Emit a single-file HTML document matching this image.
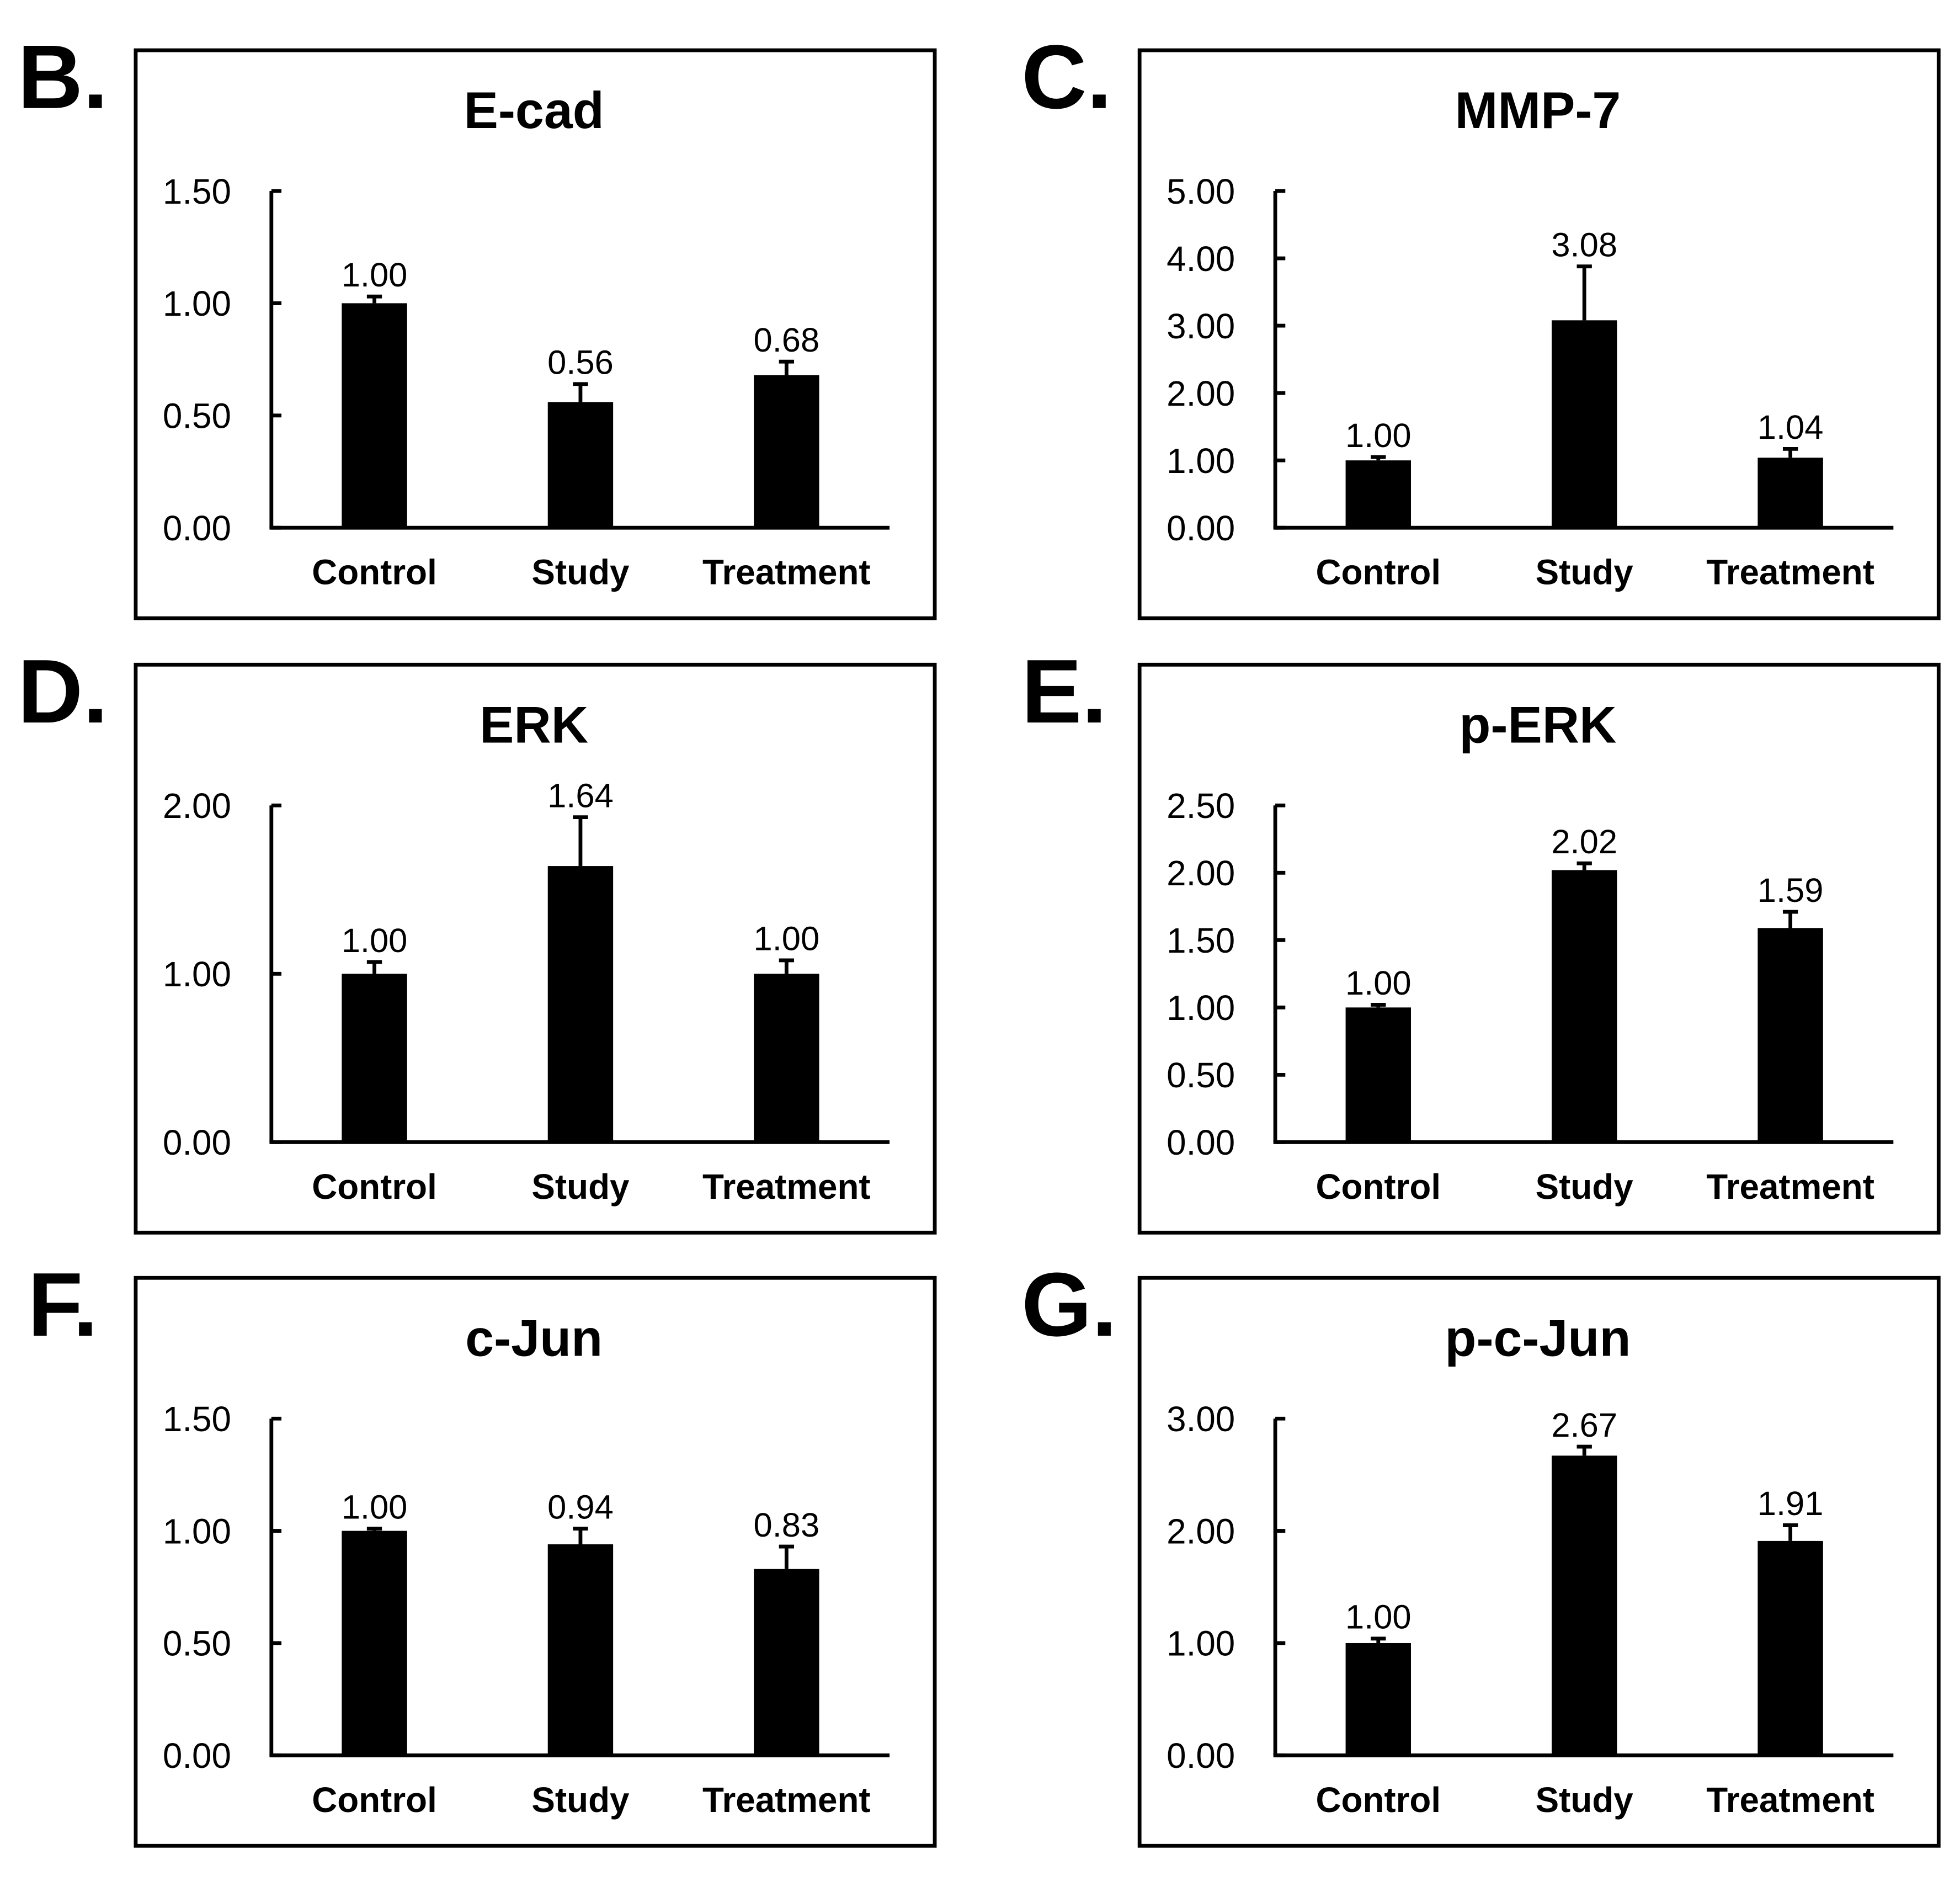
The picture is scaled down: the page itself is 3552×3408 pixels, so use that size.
<!DOCTYPE html>
<html><head><meta charset="utf-8"><style>
html,body{margin:0;padding:0;background:#fff}
svg{display:block}
text{font-family:"Liberation Sans",Arial,sans-serif;fill:#000}
</style></head><body>
<svg id="fig" width="3552" height="3408" viewBox="0 0 1560 1497" preserveAspectRatio="none" xmlns="http://www.w3.org/2000/svg"></svg>
<script>
const categories = ["Control","Study","Treatment"];
const titles = ["E-cad","MMP-7","ERK","p-ERK","c-Jun","p-c-Jun"];
const letters = ["B.","C.","D.","E.","F.","G."];
const valsB = [1.00,0.56,0.68]; const errB = [0.03,0.08,0.06];
const valsC = [1.00,3.08,1.04]; const errC = [0.05,0.80,0.13];
const valsD = [1.00,1.64,1.00]; const errD = [0.07,0.29,0.08];
const valsE = [1.00,2.02,1.59]; const errE = [0.02,0.05,0.12];
const valsF = [1.00,0.94,0.83]; const errF = [0.01,0.07,0.10];
const valsG = [1.00,2.67,1.91]; const errG = [0.04,0.08,0.14];
const labelsB = ["1.00","0.56","0.68"];
const labelsC = ["1.00","3.08","1.04"];
const labelsD = ["1.00","1.64","1.00"];
const labelsE = ["1.00","2.02","1.59"];
const labelsF = ["1.00","0.94","0.83"];
const labelsG = ["1.00","2.67","1.91"];
const ticksB = [0,0.5,1,1.5];
const ticksC = [0,1,2,3,4,5];
const ticksD = [0,1,2];
const ticksE = [0,0.5,1,1.5,2,2.5];
const ticksF = [0,0.5,1,1.5];
const ticksG = [0,1,2,3];

const panels = [
 {v:valsB,e:errB,l:labelsB,t:ticksB},{v:valsC,e:errC,l:labelsC,t:ticksC},
 {v:valsD,e:errD,l:labelsD,t:ticksD},{v:valsE,e:errE,l:labelsE,t:ticksE},
 {v:valsF,e:errF,l:labelsF,t:ticksF},{v:valsG,e:errG,l:labelsG,t:ticksG}];
const svg=document.getElementById('fig');
const NS="http://www.w3.org/2000/svg";
function mk(tag,attrs,parent){const el=document.createElementNS(NS,tag);for(const k in attrs)el.setAttribute(k,attrs[k]);(parent||svg).appendChild(el);return el;}
const rowY=[0,489,977];
panels.forEach((p,i)=>{
  const col=i%2,row=Math.floor(i/2);
  const dx=col*799, dy=rowY[row];
  const g=mk('g',{});
  
  
  const frame=mk('rect',{x:108+dx,y:40+dy,width:636,height:452,fill:'none',stroke:'#000','stroke-width':3},g);
  
  
  const let_=mk('text',{x:(i==4?22:14)+dx,y:86+dy,'font-size':72,'font-weight':'bold'},g);let_.textContent=letters[i];
  
  
  const tt=mk('text',{x:425+dx,y:102+dy,'font-size':41,'font-weight':'bold','text-anchor':'middle'},g);tt.textContent=titles[i];
  
  
  const ax=216+dx, y0=420+dy, yTop=152+dy;
  const maxT=p.t[p.t.length-1];
  const ys=v=>y0-(v/maxT)*(y0-yTop);
  const ya=mk('line',{x1:ax,y1:yTop,x2:ax,y2:y0,stroke:'#000','stroke-width':3},g);
  
  
  const xa=mk('line',{x1:ax-1.5,y1:y0,x2:708+dx,y2:y0,stroke:'#000','stroke-width':3},g);
  
  
  p.t.forEach(t=>{
    mk('line',{x1:ax,y1:ys(t),x2:ax+8,y2:ys(t),stroke:'#000','stroke-width':3},g);
    const tl=mk('text',{x:184+dx,y:ys(t)+10,'font-size':28,'text-anchor':'end'},g);tl.textContent=t.toFixed(2);
    
    
  });
  const centers=[298,462,626];
  categories.forEach((c,j)=>{
    const cx=centers[j]+dx;
    const yt=ys(p.v[j]), ye=ys(p.v[j]+p.e[j]);
    const b=mk('rect',{x:cx-26,y:yt,width:52,height:y0-yt,fill:'#000'},g);
    
    
    const eb=mk('path',{d:`M${cx},${yt} V${ye} M${cx-6},${ye} H${cx+6}`,stroke:'#000','stroke-width':3,fill:'none'},g);
    
    
    const vl=mk('text',{x:cx,y:ye-8,'font-size':27,'text-anchor':'middle'},g);vl.textContent=p.l[j];
    
    
    const cl=mk('text',{x:cx,y:465+dy,'font-size':28,'font-weight':'bold','text-anchor':'middle'},g);cl.textContent=c;
    
    
  });
});
</script>
</body></html>
